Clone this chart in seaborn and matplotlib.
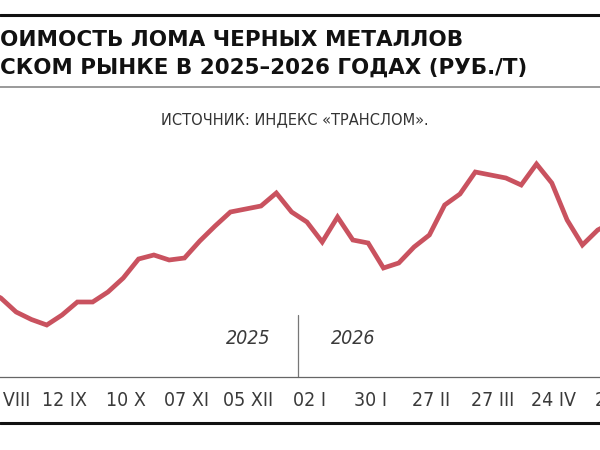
import matplotlib
matplotlib.use("Agg")
import matplotlib.pyplot as plt
import matplotlib.dates as mdates
import matplotlib.lines as mlines
import numpy as np
import pandas as pd
import seaborn as sns

# ---------------- data (RUB/t, weekly) ----------------
dates = pd.date_range("2025-08-07", periods=42, freq="7D")
prices = [19600, 19280, 18720, 18420, 18200, 18600, 19120, 19120, 19520, 20080,
          20840, 21000, 20800, 20880, 21560, 22160, 22720, 22840, 22960, 23480,
          22720, 22320, 21520, 22520, 21600, 21480, 20480, 20680, 21320, 21800,
          23000, 23440, 24320, 24200, 24080, 23800, 24640, 23880, 22400, 21400,
          22000, 22320]
tick_dates = pd.to_datetime(["2025-08-15", "2025-09-12", "2025-10-10", "2025-11-07",
                             "2025-12-05", "2026-01-02", "2026-01-30", "2026-02-27",
                             "2026-03-27", "2026-04-24", "2026-05-22"])
tick_labels = ["15 VIII", "12 IX", "10 X", "07 XI", "05 XII", "02 I", "30 I",
               "27 II", "27 III", "24 IV", "22 V"]
year_split = pd.Timestamp("2025-12-28")
year_labels = ["2025", "2026"]
title_lines = ["ОИМОСТЬ ЛОМА ЧЕРНЫХ МЕТАЛЛОВ",
               "СКОМ РЫНКЕ В 2025–2026 ГОДАХ (РУБ./Т)"]
source = "ИСТОЧНИК: ИНДЕКС «ТРАНСЛОМ»."

df = pd.DataFrame({"date": dates, "price": prices})

sns.set_theme(style="white")
plt.rcParams["font.family"] = ["DejaVu Sans"]

W, H = 600, 450
fig = plt.figure(figsize=(6, 4.5), dpi=100)
fig.patch.set_facecolor("white")

narrow = dict(family="DejaVu Sans", fontstretch="condensed")

# axes wider than the (cropped) figure
ax_left_px, ax_right_px = -60, 660
ax_bottom_px, ax_top_px = 377, 150
ax = fig.add_axes([ax_left_px / W, 1 - ax_bottom_px / H,
                   (ax_right_px - ax_left_px) / W, (ax_bottom_px - ax_top_px) / H])
ax.set_facecolor("none")

sns.lineplot(data=df, x="date", y="price", ax=ax, color="#c9525f",
             linewidth=3.4, solid_joinstyle="miter", solid_capstyle="butt")

px_per_day = 2.1865
ref = mdates.date2num(pd.Timestamp("2025-08-15"))
x0 = ref + (ax_left_px - 3) / px_per_day
x1 = ref + (ax_right_px - 3) / px_per_day
ax.set_xlim(x0, x1)
ax.set_ylim(16120, 25200)

ax.set_xticks(mdates.date2num(tick_dates))
ax.set_xticklabels(tick_labels, **narrow)
ax.set_yticks([])
ax.set_xlabel("")
ax.set_ylabel("")
for s in ["top", "left", "right"]:
    ax.spines[s].set_visible(False)
ax.spines["bottom"].set_color("#666666")
ax.spines["bottom"].set_linewidth(0.9)
ax.tick_params(axis="x", direction="in", length=12.2, width=0.9, color="#777777",
               pad=10, labelsize=14, labelcolor="#3a3a3a")

# year divider
ysplit = mdates.date2num(year_split)
ax.plot([ysplit, ysplit], [0, 62 / 227], transform=ax.get_xaxis_transform(),
        color="#777777", linewidth=0.9, clip_on=False)
ax.text(ysplit - 50 / px_per_day, 39 / 227, year_labels[0], transform=ax.get_xaxis_transform(),
        ha="center", va="center", fontsize=14, style="italic", color="#3a3a3a", **narrow)
ax.text(ysplit + 55 / px_per_day, 39 / 227, year_labels[1], transform=ax.get_xaxis_transform(),
        ha="center", va="center", fontsize=14, style="italic", color="#3a3a3a", **narrow)

# header rules
fig.add_artist(mlines.Line2D([0, 1], [1 - 15 / H, 1 - 15 / H], color="#111111", linewidth=2.2))
fig.add_artist(mlines.Line2D([0, 1], [1 - 87 / H, 1 - 87 / H], color="#9a9a9a", linewidth=1.4))
fig.add_artist(mlines.Line2D([0, 1], [1 - 423 / H, 1 - 423 / H], color="#111111", linewidth=2.2))

# titles
title_font = ["DejaVu Sans"]
t1 = fig.text(0.5 / W, 1 - 40 / H, title_lines[0], ha="left", va="center",
              fontsize=16, fontweight="bold", family=title_font, color="#111111")
t2 = fig.text(0.5 / W, 1 - 68 / H, title_lines[1], ha="left", va="center",
              fontsize=16, fontweight="bold", family=title_font, color="#111111")
st = fig.text(295 / W, 1 - 120 / H, source, ha="center", va="center",
              fontsize=12, color="#333333", **narrow)

# fit title widths to the reference
fig.canvas.draw()
r = fig.canvas.get_renderer()
for t, right in [(t1, 463), (t2, 527)]:
    w = t.get_window_extent(r).width
    t.set_fontsize(t.get_fontsize() * right / w)
w = st.get_window_extent(r).width
st.set_fontsize(st.get_fontsize() * 268 / w)

fig.savefig("out.png", dpi=100, facecolor="white")
